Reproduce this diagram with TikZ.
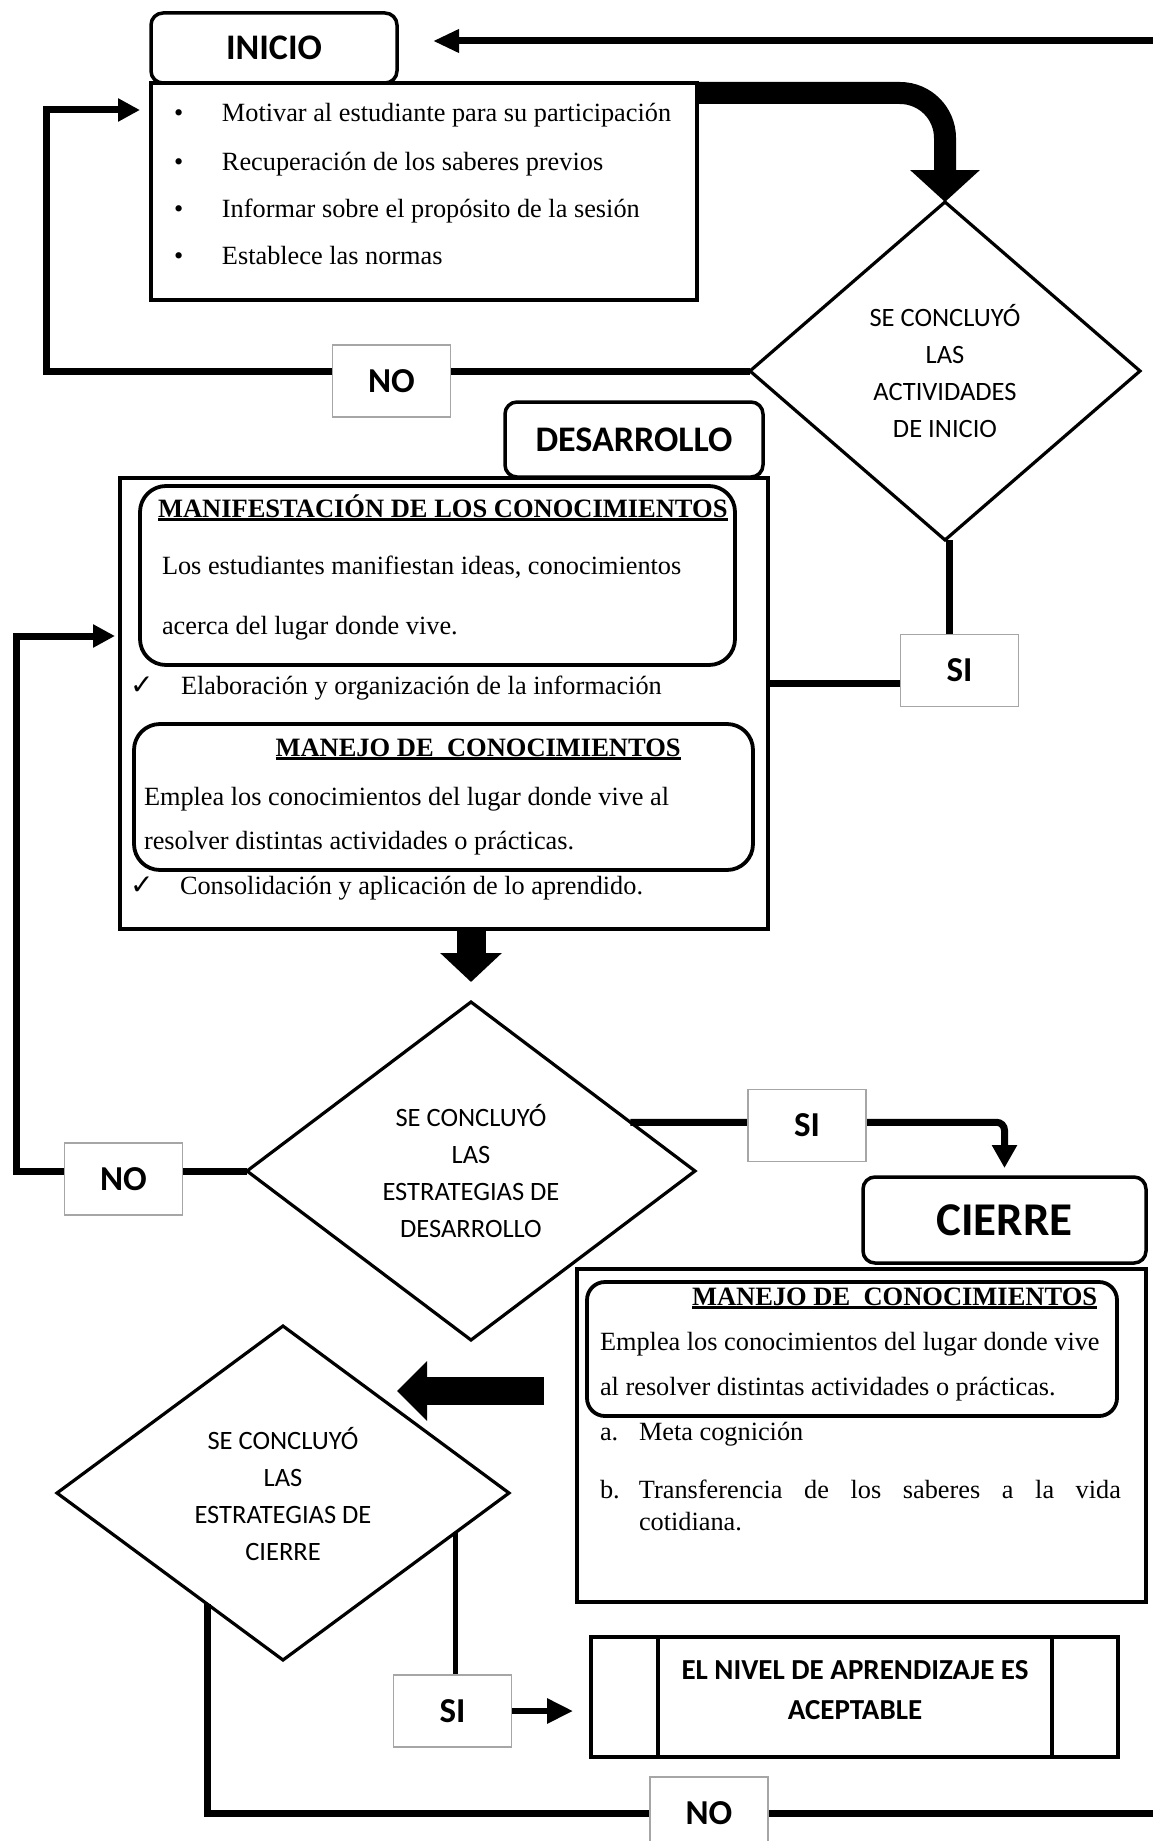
\documentclass[tikz,border=0pt]{standalone}
\usepackage{fontspec}
\setmainfont{Liberation Serif}
\newfontfamily\calib{Carlito}
\newfontfamily\djv{DejaVu Sans}
\usetikzlibrary{shapes.geometric,arrows.meta,backgrounds}
\newcommand\myUl[1]{\setbox0=\hbox{#1}\rlap{\rule[-4pt]{\wd0}{2.6pt}}\box0}
\newcommand\mySer{\fontsize{26.3}{30}\selectfont}
\newcommand\mySerB{\fontsize{26.5}{30}\selectfont\bfseries}
\newcommand\myChk{{\djv\fontsize{28}{28}\selectfont ✓}}
\begin{document}
\begin{tikzpicture}[x=1pt,y=-1pt,
  every node/.style={inner sep=0pt,outer sep=0pt},
  head/.style={draw,line width=3.5pt,rounded corners=12pt,fill=white,font=\calib\bfseries\fontsize{36}{40}\selectfont},
  panel/.style={draw,line width=3.6pt,rectangle},
  inbox/.style={draw,line width=3.8pt,rounded corners=26pt},
  decision/.style={draw,diamond,line width=3.2pt},
  lbl/.style={draw=gray!70,line width=1.5pt,fill=white,minimum width=118pt,minimum height=72pt,font=\calib\bfseries\fontsize{35}{35}\selectfont},
  txt/.style={anchor=base west,font=\mySer},
  dtxt/.style={align=center,font=\calib\fontsize{26.5}{37}\selectfont},
  conn/.style={line width=7pt},
  tip/.style={-{Triangle[width=22pt,length=22pt]}}
]
\useasboundingbox (0,0) rectangle (1152,1841);
\clip (0,0) rectangle (1152,1841);

% ---------- INICIO ----------
\node[head, minimum width=246pt, minimum height=70pt] (ini) at (274,48) {INICIO};
\node[panel, minimum width=546pt, minimum height=217pt] (p1) at (424,191.5) {};
\node[txt] (b1) at (174,122) {\makebox[48pt][l]{•}Motivar al estudiante para su participación};
\node[txt] (b2) at (174,170) {\makebox[48pt][l]{•}Recuperación de los saberes previos};
\node[txt] (b3) at (174,217) {\makebox[48pt][l]{•}Informar sobre el propósito de la sesión};
\node[txt] (b4) at (174,264) {\makebox[48pt][l]{•}Establece las normas};

\node[decision, minimum width=390pt, minimum height=338pt] (d1) at (945,371) {};
\node[dtxt] (d1t) at (945,371) {SE CONCLUYÓ\\LAS\\ACTIVIDADES\\DE INICIO};

% ---------- DESARROLLO ----------
\node[head, minimum width=258pt, minimum height=75pt] (des) at (634,439.5) {DESARROLLO};
\node[panel, minimum width=648pt, minimum height=451pt] (p2) at (444,703.5) {};
\node[inbox, minimum width=595pt, minimum height=179pt] (ib1) at (437.5,575.5) {};
\node[txt,font=\mySerB] (h1) at (158,517) {\myUl{MANIFESTACIÓN DE LOS CONOCIMIENTOS}};
\node[txt] (t1) at (162,574) {Los estudiantes manifiestan ideas, conocimientos};
\node[txt] (t2) at (162,634) {acerca del lugar donde vive.};
\node[txt] (t3) at (130,694) {\makebox[51pt][l]{\myChk}Elaboración y organización de la información};
\node[inbox, minimum width=619pt, minimum height=146pt] (ib2) at (443.5,797) {};
\node[txt,font=\mySerB] (h2) at (275.5,756) {\myUl{MANEJO DE\ \ CONOCIMIENTOS}};
\node[txt] (t4) at (144,805) {Emplea los conocimientos del lugar donde vive al};
\node[txt] (t5) at (144,849) {resolver distintas actividades o prácticas.};
\node[txt] (t6) at (130,894) {\makebox[50pt][l]{\myChk}Consolidación y aplicación de lo aprendido.};

\node[decision, minimum width=448pt, minimum height=338pt] (d2) at (471,1171) {};
\node[dtxt] (d2t) at (471,1171) {SE CONCLUYÓ\\LAS\\ESTRATEGIAS DE\\DESARROLLO};

% ---------- CIERRE ----------
\node[head, minimum width=283pt, minimum height=86pt, font=\calib\bfseries\fontsize{47}{50}\selectfont] (ch) at (1004.5,1220) {CIERRE};
\node[panel, minimum width=569pt, minimum height=333pt] (p3) at (861.5,1435.5) {};
\node[inbox, rounded corners=18pt, minimum width=530pt, minimum height=134pt] (ib3) at (852,1349) {};
\node[txt,font=\mySerB] (h3) at (692,1305) {\myUl{MANEJO DE\ \ CONOCIMIENTOS}};
\node[txt] (t7) at (600,1350) {Emplea los conocimientos del lugar donde vive};
\node[txt] (t8) at (600,1395) {al resolver distintas actividades o prácticas.};
\node[txt] (t9) at (600,1440) {\makebox[39pt][l]{a.}Meta cognición};
\node[txt] (t10) at (600,1498) {\makebox[39pt][l]{b.}\hbox to 482pt{Transferencia\hfil de\hfil los\hfil saberes\hfil a\hfil la\hfil vida}};
\node[txt] (t11) at (639,1530) {cotidiana.};

\node[decision, minimum width=452pt, minimum height=334pt] (d3) at (283,1493) {};
\node[dtxt] (d3t) at (283,1494) {SE CONCLUYÓ\\LAS\\ESTRATEGIAS DE\\CIERRE};

\node[draw, line width=4pt, minimum width=527pt, minimum height=120pt] (fb) at (854.5,1697) {};
\draw[line width=4pt] ([xshift=67pt]fb.north west) -- ([xshift=67pt]fb.south west);
\draw[line width=4pt] ([xshift=-66pt]fb.north east) -- ([xshift=-66pt]fb.south east);
\node[align=center, font=\calib\bfseries\fontsize{29}{40}\selectfont] (fbt) at (855,1690) {EL NIVEL DE APRENDIZAJE ES\\ACEPTABLE};

% ---------- labels ----------
\node[lbl] (no1) at (391.5,381) {NO};
\node[lbl] (si1) at (959.5,670.5) {SI};
\node[lbl] (si2) at (807,1125.5) {SI};
\node[lbl] (no2) at (123.5,1179) {NO};
\node[lbl] (si3) at (452.5,1711) {SI};
\node[lbl] (no3) at (709,1813) {NO};

% ---------- connectors ----------
\coordinate (b1c) at (945,93);
\coordinate (l1t) at (46,110);
\coordinate (s1) at (949,683);
\coordinate (l2t) at (16,636);
\coordinate (a3e) at (397,1391);
\coordinate (rb) at (1157,1813);
\coordinate (rt) at (1157,41);
\begin{scope}[on background layer]
\draw[line width=22pt, rounded corners=45pt, -{Triangle[width=68pt,length=32pt]}]
  ([yshift=-10pt]p1.north east) -- (b1c) -- (d1.north);
\draw[conn, tip, shorten >=11pt] (d1.west) -| (l1t) -- (l1t -| p1.west);
\draw[conn] (d1.south -| s1) -- (s1) -- (s1 -| p2.east);
\draw[line width=29pt, -{Triangle[width=60pt,length=29pt]}, shorten >=20pt]
  (p2.south -| d2.north) -- (d2.north);
\draw[conn, tip, shorten >=5pt] (d2.west) -| (l2t) -- (l2t -| p2.west);
\draw[conn, -{Triangle[width=24pt,length=23pt]}, rounded corners=8pt, shorten >=9pt]
  (d2.17.5) -- (d2.17.5 -| ch.north) -- (ch.north);
\draw[line width=28pt, -{Triangle[width=58pt,length=30pt]}, shorten <=33pt]
  (p3.west |- a3e) -- (a3e);
\draw[line width=5pt] (d3.347.4) -- (d3.347.4 |- si3.north);
\draw[line width=6pt, -{Triangle[width=24pt,length=26pt]}, shorten >=18pt]
  (si3.east) -- (si3.east -| fb.west);
\draw[conn, -{Triangle[width=22pt,length=26pt]}, shorten >=36pt]
  (d3.236.8) |- (rb) -- (rt) -- (rt -| ini.east);
\end{scope}
\end{tikzpicture}
\end{document}
